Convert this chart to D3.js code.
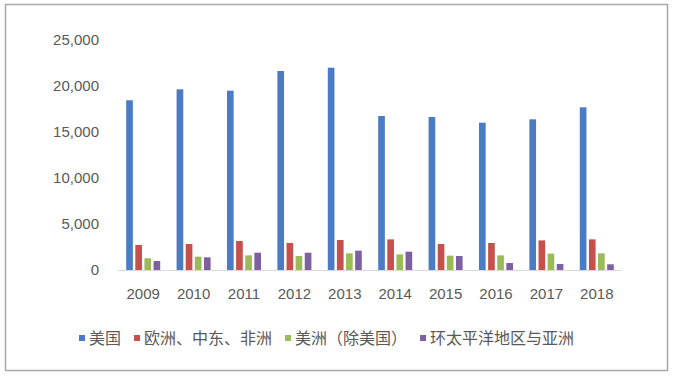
<!DOCTYPE html>
<html>
<head>
<meta charset="utf-8">
<script src="https://cdn.jsdelivr.net/npm/d3@7"></script>
<style>
  body { margin: 0; background: #fff; }
  .tick-label { font-family: "Liberation Sans", Arial, sans-serif; font-size: 15px; fill: #595959; }
  .legend-label { font-family: "Noto Sans CJK SC", sans-serif; font-size: 16px; fill: #595959; }
</style>
</head>
<body>
<div id="graphic"></div>
<script>
// Chart data
const years = ['2009', '2010', '2011', '2012', '2013', '2014', '2015', '2016', '2017', '2018'];
const seriesNames = ['美国', '欧洲、中东、非洲', '美洲（除美国）', '环太平洋地区与亚洲'];
const usa = [18450, 19640, 19490, 21630, 21990, 16740, 16630, 16010, 16380, 17680];
const emea = [2720, 2830, 3150, 2940, 3260, 3330, 2830, 2940, 3220, 3330];
const americas = [1270, 1450, 1590, 1520, 1810, 1700, 1560, 1590, 1780, 1810];
const apac = [980, 1380, 1880, 1880, 2100, 1990, 1520, 760, 650, 620];
const yTicks = [0, 5000, 10000, 15000, 20000, 25000];

const colors = ['#4a7bc4', '#c8504c', '#9bbb59', '#7d60a0'];
const seriesValues = [usa, emea, americas, apac];

(function(d3){
    let width = 673, height = 380;

    let svg = d3.select('#graphic')
                .append('svg')
                .attr('width', width)
                .attr('height', height);

    // Outer frame
    svg.append('rect')
       .attr('x', 5.5).attr('y', 4.5)
       .attr('width', 662).attr('height', 366)
       .attr('fill', '#fff')
       .attr('stroke', '#a8a8a8')
       .attr('stroke-width', 1.5);

    // Scales
    let x0 = d3.scaleBand()
        .domain(years)
        .range([118, 622])
        .paddingInner(0.325)
        .paddingOuter(0.1625);

    let x1 = d3.scaleBand()
        .domain(d3.range(seriesNames.length))
        .range([0, x0.bandwidth()])
        .paddingInner(0.27);

    let y = d3.scaleLinear()
        .domain([0, 25000])
        .range([270, 40]);

    // Y tick labels (no axis line, no grid)
    svg.append('g')
       .selectAll('text')
       .data(yTicks)
       .join('text')
       .attr('class', 'tick-label')
       .attr('x', 99)
       .attr('y', d => y(d))
       .attr('dy', '0.35em')
       .attr('text-anchor', 'end')
       .text(d => d3.format(',')(d));

    // Bars
    seriesValues.forEach((vals, si) => {
        svg.append('g')
           .attr('fill', colors[si])
           .selectAll('rect')
           .data(vals)
           .join('rect')
           .attr('x', (d, i) => x0(years[i]) + x1(si))
           .attr('width', x1.bandwidth())
           .attr('y', d => y(d))
           .attr('height', d => y(0) - y(d));
    });

    // Baseline
    svg.append('line')
       .attr('x1', 118).attr('x2', 622)
       .attr('y1', y(0) + 0.5).attr('y2', y(0) + 0.5)
       .attr('stroke', '#d9d9d9')
       .attr('stroke-width', 1);

    // Category labels
    svg.append('g')
       .selectAll('text')
       .data(years)
       .join('text')
       .attr('class', 'tick-label')
       .attr('x', d => x0(d) + x0.bandwidth() / 2)
       .attr('y', 294)
       .attr('dy', '0.35em')
       .attr('text-anchor', 'middle')
       .text(d => d);

    // Legend
    let lx = 79, ly = 338;
    seriesNames.forEach((name, i) => {
        svg.append('rect')
           .attr('x', lx).attr('y', ly - 3)
           .attr('width', 6).attr('height', 6)
           .attr('fill', colors[i]);
        let t = svg.append('text')
           .attr('class', 'legend-label')
           .attr('x', lx + 10)
           .attr('y', ly)
           .attr('dy', '0.35em')
           .text(name);
        lx += 10 + t.node().getComputedTextLength() + 13;
    });

})(window.d3);
</script>
</body>
</html>
